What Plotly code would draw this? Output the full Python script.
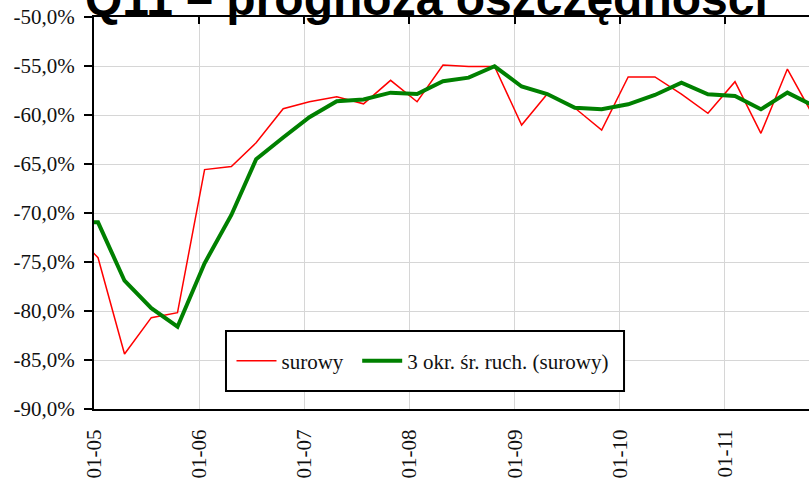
import plotly.graph_objects as go

# ---- data ----
dates = ["2004-10-16", "2005-01-15", "2005-04-17", "2005-07-19", "2005-10-18",
         "2006-01-20", "2006-04-23", "2006-07-18", "2006-10-20",
         "2007-01-19", "2007-04-24", "2007-07-26", "2007-10-28",
         "2008-01-28", "2008-04-27", "2008-07-25", "2008-10-23",
         "2009-01-25", "2009-04-24", "2009-07-29", "2009-10-30",
         "2010-01-30", "2010-05-03", "2010-08-03", "2010-11-03",
         "2011-02-05", "2011-05-06", "2011-08-06", "2011-11-06"]

surowy = [-71.8, -74.56, -84.39, -80.68, -80.17,
          -65.57, -65.26, -62.83, -59.36,
          -58.64, -58.14, -58.86, -56.46,
          -58.65, -54.91, -55.05, -55.05,
          -61.02, -57.86, -59.29, -61.53,
          -56.12, -56.12, -57.86, -59.83,
          -56.6, -61.87, -55.31, -60.2]

srednia = [-70.95, -70.95, -76.91, -79.72, -81.6,
           -75.13, -70.2, -64.51, -62.3,
           -60.23, -58.6, -58.42, -57.72,
           -57.86, -56.56, -56.19, -55.03,
           -57.09, -57.86, -59.26, -59.42,
           -58.91, -57.96, -56.7, -57.89,
           -58.06, -59.42, -57.72, -59.08]

x_tickvals = ["2005-01-01", "2006-01-01", "2007-01-01", "2008-01-01",
              "2009-01-01", "2010-01-01", "2011-01-01"]
x_ticktext = ["01-05", "01-06", "01-07", "01-08", "01-09", "01-10", "01-11"]

y_tickvals = [-90, -85, -80, -75, -70, -65, -60, -55, -50]
y_ticktext = ["-90,0%", "-85,0%", "-80,0%", "-75,0%", "-70,0%",
              "-65,0%", "-60,0%", "-55,0%", "-50,0%"]

x_range = ["2005-01-01", "2011-10-20"]
title_text = "Q11 – prognoza oszczędności"

SERIF = "Liberation Serif"
GRID = "#d6d6d6"
TXT = dict(family=SERIF, size=21, color="#111")

fig = go.Figure()
fig.add_trace(go.Scatter(x=dates, y=surowy, mode="lines", name="surowy",
                         line=dict(color="#ff0000", width=1.5),
                         legend="legend"))
fig.add_trace(go.Scatter(x=dates, y=srednia, mode="lines",
                         name="3 okr. śr. ruch. (surowy)",
                         line=dict(color="#008000", width=4),
                         legend="legend2"))

fig.update_layout(
    width=809, height=478,
    margin=dict(l=94, r=0, t=17, b=69, autoexpand=False),
    paper_bgcolor="white", plot_bgcolor="white",
    title=dict(text="<b>" + title_text + "</b>",
               font=dict(family="Liberation Sans", size=48, color="black"),
               x=0.527, xanchor="center", xref="container",
               y=1 - 15 / 478, yanchor="bottom", yref="container",
               automargin=False),
    showlegend=True,
    legend=dict(orientation="h", x=0.1923, y=0.1224, xanchor="left",
                yanchor="middle", bgcolor="rgba(0,0,0,0)", borderwidth=0,
                font=TXT, itemwidth=40),
    legend2=dict(orientation="h", x=0.3681, y=0.1224, xanchor="left",
                 yanchor="middle", bgcolor="rgba(0,0,0,0)", borderwidth=0,
                 font=TXT, itemwidth=40),
    xaxis=dict(type="date", range=x_range, tickmode="array",
               tickvals=x_tickvals, ticktext=x_ticktext, tickangle=-90,
               tickfont=TXT, ticklabeloverflow="allow",
               showgrid=True, gridcolor=GRID, gridwidth=1,
               showline=True, linecolor="black", linewidth=2,
               ticks="", ticklabelstandoff=10, zeroline=False,
               automargin=False),
    xaxis2=dict(type="date", range=x_range, overlaying="x", side="top",
                tickmode="array", tickvals=x_tickvals, showticklabels=False,
                ticks="inside", ticklen=7, tickcolor="black", tickwidth=1.5,
                showline=True, linecolor="black", linewidth=2,
                showgrid=False, zeroline=False, automargin=False),
    yaxis=dict(range=[-90, -50], tickmode="array", tickvals=y_tickvals,
               ticktext=y_ticktext, tickfont=TXT, ticklabeloverflow="allow",
               showgrid=True, gridcolor=GRID, gridwidth=1,
               showline=True, linecolor="black", linewidth=2,
               ticks="outside", ticklen=8, tickcolor="black", tickwidth=1.5,
               ticklabelstandoff=5, zeroline=False, automargin=False),
    shapes=[dict(type="rect", xref="paper", yref="paper",
                 x0=0.1846, x1=0.7413, y0=0.0459, y1=0.199,
                 line=dict(color="black", width=2), fillcolor="white",
                 layer="above")],
)
# invisible trace to make the top axis render
fig.add_trace(go.Scatter(x=[x_range[0]], y=[-90], xaxis="x2", mode="markers",
                         marker=dict(opacity=0), showlegend=False,
                         hoverinfo="skip"))

# remove the browser's default body margin so the figure fills the window
fig.write_html("out.html",
               config={"displayModeBar": False},
               post_script="document.body.style.margin='0';"
                           "document.body.style.overflow='hidden';")
